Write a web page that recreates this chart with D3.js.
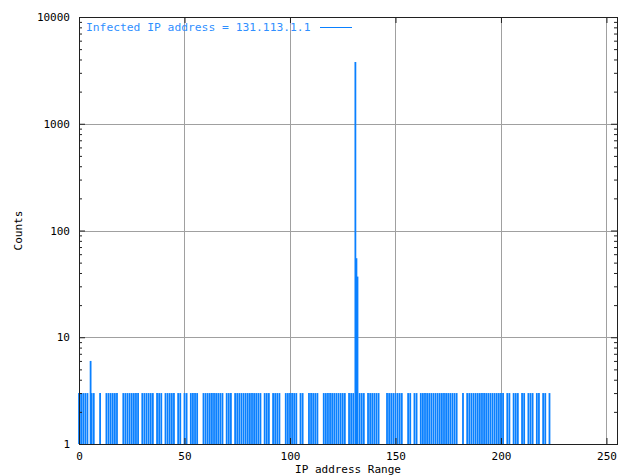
<!DOCTYPE html>
<html>
<head>
<meta charset="utf-8">
<script src="https://cdn.jsdelivr.net/npm/d3@7"></script>
<style>
  body { margin: 0; background: #fff; }
  text { font-family: "DejaVu Sans Mono", monospace; font-size: 11px; }
</style>
</head>
<body>
<svg id="svg" width="623" height="475"></svg>
<script>
// hosts seen with count 3 (x = last octet)
var hostX = [0, 1, 2, 3, 4, 6, 7, 10, 13, 14, 15, 16, 17, 18,
    21, 22, 23, 24, 25, 26, 27, 28, 30, 31, 32, 33, 34, 35,
    37, 38, 39, 41, 42, 43, 44, 45, 47, 48, 50, 51, 53, 54, 55, 56,
    59, 60, 61, 62, 63, 64, 65, 66, 67, 68, 70, 71, 72, 74, 75, 76, 77, 78,
    79, 80, 81, 82, 83, 84, 85, 86, 88, 89, 90, 92, 93, 94, 95,
    98, 99, 100, 101, 102, 103, 105, 106, 109, 110, 111, 112, 113,
    116, 117, 118, 119, 120, 121, 122, 123, 124, 125, 126, 128, 129, 130,
    133, 134, 135, 137, 138, 139, 140, 141, 142, 146, 147, 148, 149, 150,
    151, 152, 153, 156, 157, 159, 160, 162, 163, 164, 165, 166, 167,
    168, 169, 170, 171, 172, 173, 174, 175, 176, 177, 178, 179, 182,
    184, 185, 186, 187, 188, 189, 190, 191, 192, 193, 194, 195, 196, 197, 198, 199,
    200, 201, 203, 204, 206, 207, 208, 210, 211, 213, 214, 215, 217, 218, 220, 221, 223];
var hostCount = 3;

// the few hosts above the baseline
var peakX = [5.5, 131, 131.5, 132];
var peakY = [6, 3790, 55, 37];

var xTicks = [0, 50, 100, 150, 200, 250];
var yTicks = [1, 10, 100, 1000, 10000];

var legendText = "Infected IP address = 131.113.1.1";
var xLabel = "IP address Range";
var yLabel = "Counts";

var bars = hostX.map(function (x) { return {x: x, y: hostCount}; })
    .concat(peakX.map(function (x, i) { return {x: x, y: peakY[i]}; }));

var svg = d3.select("svg");
var pLeft = 79, pRight = 617, pTop = 17, pBottom = 444;

var x = d3.scaleLinear().domain([0, 255]).range([pLeft, pRight]);
var y = d3.scaleLog().domain([1, 10000]).range([pBottom, pTop]);

// grid
var grid = svg.append("g").attr("stroke", "#a0a0a0").attr("stroke-width", 1);
xTicks.filter(function (d) { return d > 0; }).forEach(function (d) {
    grid.append("line")
        .attr("x1", Math.round(x(d)) + 0.5).attr("x2", Math.round(x(d)) + 0.5)
        .attr("y1", pTop).attr("y2", pBottom);
});
yTicks.filter(function (d) { return d > 1 && d < 10000; }).forEach(function (d) {
    grid.append("line")
        .attr("x1", pLeft).attr("x2", pRight)
        .attr("y1", Math.round(y(d)) + 0.5).attr("y2", Math.round(y(d)) + 0.5);
});

// impulses
svg.append("g").selectAll("line")
    .data(bars)
    .enter().append("line")
    .attr("x1", function (d) { return x(d.x); })
    .attr("x2", function (d) { return x(d.x); })
    .attr("y1", pBottom)
    .attr("y2", function (d) { return y(d.y); })
    .attr("stroke", "#0a80ff")
    .attr("stroke-width", 1.8);

// axes: ticks inward, mirrored
var axisColor = "#202020";
var xb = d3.axisBottom(x).tickValues(xTicks).tickSize(-6).tickPadding(8);
var xt = d3.axisTop(x).tickValues(xTicks).tickSize(-6).tickFormat("");
var minor = [];
for (var e = 0; e < 4; e++) for (var k = 2; k < 10; k++) minor.push(k * Math.pow(10, e));
var yl = d3.axisLeft(y).tickValues(yTicks).tickFormat(d3.format("d")).tickSize(-6).tickPadding(9);
var ylm = d3.axisLeft(y).tickValues(minor).tickFormat("").tickSize(-3);
var yr = d3.axisRight(y).tickValues(yTicks).tickFormat("").tickSize(-6);
var yrm = d3.axisRight(y).tickValues(minor).tickFormat("").tickSize(-3);

svg.append("g").attr("transform", "translate(0," + pBottom + ")").call(xb);
svg.append("g").attr("transform", "translate(0," + pTop + ")").call(xt);
svg.append("g").attr("transform", "translate(" + pLeft + ",0)").call(yl);
svg.append("g").attr("transform", "translate(" + pLeft + ",0)").call(ylm);
svg.append("g").attr("transform", "translate(" + pRight + ",0)").call(yr);
svg.append("g").attr("transform", "translate(" + pRight + ",0)").call(yrm);

svg.selectAll(".domain").remove();
svg.selectAll(".tick line").attr("stroke", axisColor);
svg.selectAll(".tick text").attr("fill", "#000")
    .style("font-family", "'DejaVu Sans Mono', monospace").style("font-size", "11px");

// border
svg.append("rect")
    .attr("x", pLeft + 0.5).attr("y", pTop + 0.5)
    .attr("width", pRight - pLeft).attr("height", pBottom - pTop)
    .attr("fill", "none").attr("stroke", axisColor);

// legend
svg.append("text").attr("x", 86).attr("y", 31)
    .attr("fill", "#2f8fff").style("font-size", "11.3px").text(legendText);
svg.append("line").attr("x1", 320).attr("x2", 352)
    .attr("y1", 27.5).attr("y2", 27.5)
    .attr("stroke", "#0a80ff").attr("stroke-width", 1);

// axis labels
svg.append("text").attr("x", (pLeft + pRight) / 2).attr("y", 473)
    .attr("text-anchor", "middle").attr("fill", "#000").text(xLabel);
svg.append("text")
    .attr("transform", "translate(22," + (pTop + pBottom) / 2 + ") rotate(-90)")
    .attr("text-anchor", "middle").attr("fill", "#000").text(yLabel);
</script>
</body>
</html>
